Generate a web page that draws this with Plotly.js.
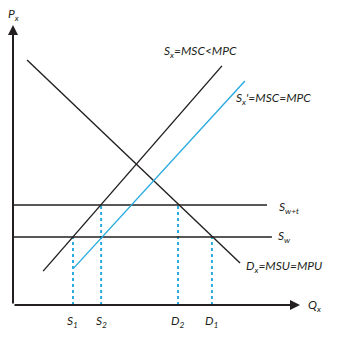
<!DOCTYPE html>
<html><head><meta charset="utf-8">
<script src="https://cdn.plot.ly/plotly-3.0.1.min.js"></script>
<style>html,body{margin:0;padding:0;background:#fff}#chart{width:356px;height:337px}</style>
</head><body><div id="chart"></div>
<script>
// Economic model values (quantity Q, price P)
const demandQ = [0.49, 7.91];
const demandP = [8.75, 1.50];
const supplyQ = [1.05, 7.28];
const supplyP = [1.21, 8.54];
const supplyPrimeQ = [2.09, 8.08];
const supplyPrimeP = [1.29, 8.00];
const worldPriceTax = 3.57;   // S_{w+t}
const worldPrice = 2.43;      // S_w
const worldTaxEndQ = 8.85;
const worldEndQ = 9.02;
const qMarks = [2.09, 3.07, 5.75, 6.93];
const qMarkTops = [2.43, 3.57, 3.57, 2.43];
const qMarkLabels = ['S<sub>1</sub>', 'S<sub>2</sub>', 'D<sub>2</sub>', 'D<sub>1</sub>'];
const curveLabels = ['S<sub>x</sub>=MSC<MPC', 'S<sub>x</sub>\'=MSC=MPC', 'S<sub>w+t</sub>', 'S<sub>w</sub>', 'D<sub>x</sub>=MSU=MPU'];
const curveLabelQ = [5.19, 7.70, 9.20, 9.16, 8.05];
const curveLabelP = [9.04, 7.39, 3.50, 2.43, 1.39];
const axisMaxQ = 10, axisMaxP = 10;

const BLACK = '#231f20', BLUE = '#29aae1';
const FONT = 'Lato, "Open Sans", sans-serif';

const traces = [];
const line = (x, y, color, w, dash) => ({x, y, mode: 'lines', type: 'scatter', hoverinfo: 'skip',
  line: {color, width: w, dash: dash || 'solid'}, showlegend: false});

// dashed verticals
qMarks.forEach((q, i) => traces.push(line([q, q], [0, qMarkTops[i]], BLUE, 2, '3px,3px')));
traces.push(line([0, worldTaxEndQ], [worldPriceTax, worldPriceTax], BLACK, 1.4));
traces.push(line([0, worldEndQ], [worldPrice, worldPrice], BLACK, 1.4));
traces.push(line(demandQ, demandP, BLACK, 1.4));
traces.push(line(supplyQ, supplyP, BLACK, 1.4));
traces.push(line(supplyPrimeQ, supplyPrimeP, BLUE, 1.4));

const annotations = [];
// axes arrows
annotations.push({x: 0, y: axisMaxP, ax: 0, ay: 0, xref: 'x', yref: 'y', axref: 'x', ayref: 'y',
  showarrow: true, arrowhead: 2, arrowsize: 1, arrowwidth: 2, arrowcolor: BLACK, text: ''});
annotations.push({x: axisMaxQ, y: 0, ax: 0, ay: 0, xref: 'x', yref: 'y', axref: 'x', ayref: 'y',
  showarrow: true, arrowhead: 2, arrowsize: 1, arrowwidth: 2, arrowcolor: BLACK, text: ''});
const txt = (text, x, y, xanchor, opts) => Object.assign({text: '<i>' + text + '</i>', x, y, xref: 'x', yref: 'y',
  xanchor, yanchor: 'middle', showarrow: false, font: {family: FONT, size: 12, color: BLACK}}, opts || {});
annotations.push(txt('P<sub>x</sub>', 0, 10.36, 'center'));
annotations.push(txt('Q<sub>x</sub>', 10.2, 0.0, 'left'));
qMarks.forEach((q, i) => annotations.push(txt(qMarkLabels[i], q, -0.6, 'center')));
curveLabels.forEach((t, i) => annotations.push(txt(t, curveLabelQ[i], curveLabelP[i], 'left')));

const layout = {
  width: 356, height: 337, margin: {l: 0, r: 0, t: 0, b: 0},
  paper_bgcolor: '#fff', plot_bgcolor: '#fff',
  xaxis: {range: [-0.453, 11.95], visible: false, fixedrange: true},
  yaxis: {range: [-1.143, 10.893], visible: false, fixedrange: true},
  annotations, showlegend: false
};
Plotly.newPlot('chart', traces, layout, {staticPlot: true});
</script></body></html>
